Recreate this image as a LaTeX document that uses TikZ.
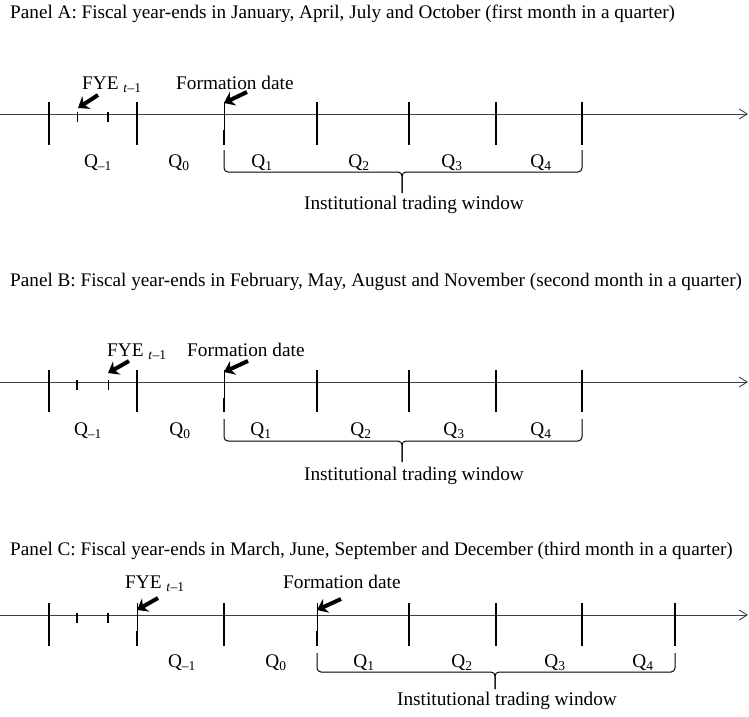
\documentclass[tikz,border=0pt]{standalone}
\usepackage{fontspec}
\setmainfont{Liberation Serif}
\usetikzlibrary{arrows.meta}
\definecolor{axisgray}{HTML}{404040}

\begin{document}
\begin{tikzpicture}[x=1pt, y=-1pt,
            font=\fontsize{19.3}{23}\selectfont,
            axis/.style={draw=axisgray, line width=0.9pt, -{Straight Barb[length=8pt, width=10pt]}},
            qtick/.style={line width=2.2pt},
            hair/.style={line width=0.9pt},
            ptr/.style={line width=4pt, -{Stealth[length=10pt, width=15pt]}},
            brace/.style={line width=1pt, rounded corners=4pt},
            lbl/.style={inner sep=0pt, anchor=base west},
            ttl/.style={lbl, font=\fontsize{19.2}{23}\selectfont},
            qlbl/.style={inner sep=0pt, anchor=base}
            ]
        \useasboundingbox (0,0) rectangle (749,716);

        % Panel A
        \node[ttl] (titleA) at (10,18) {Panel A: Fiscal year-ends in January, April, July and October (first month in a quarter)};
        \path coordinate (axA0) at (0,114)
              coordinate (axA1) at (748,114);
        \draw[axis] (axA0) -- (axA1);
        \foreach \x in {49,137,317,409,496,582}
            \draw[qtick] (\x,102) -- (\x,145);
        \draw[hair] (224,102) -- (224,130);
        \draw[qtick] (224,130) -- (224,145);
        \draw[hair] (77,112) -- (77,122);
        \draw[qtick] (108,112) -- (108,122);

        \node[lbl] (fyeA) at (82,89) {FYE \textsubscript{\textit{t}\textendash1}};
        \node[lbl] (formA) at (176,89) {Formation date};
        \path coordinate (fyeA0) at (98,95)   coordinate (fyeA1) at (78,108)
              coordinate (formA0) at (247,92) coordinate (formA1) at (224,103);
        \draw[ptr] (fyeA0) -- (fyeA1);
        \draw[ptr] (formA0) -- (formA1);

        \foreach \x/\q [count=\i] in {98/\textendash1, 179/0, 262/1, 359/2, 452/3, 541/4}
            \node[qlbl] (qA\i) at (\x,167) {Q\textsubscript{\q}};

        \path coordinate (brA0) at (224,150)
              coordinate (brA1) at (582,150)
              coordinate (brAt) at (402,193);
        \draw[brace] (brA0) |- (402,172) -- (brAt);
        \draw[brace] (brA1) |- (402,172) -- (brAt);
        \node[qlbl] (winA) at (414,209) {Institutional trading window};

        % Panel B
        \node[ttl] (titleB) at (10,286) {Panel B: Fiscal year-ends in February, May, August and November (second month in a quarter)};
        \path coordinate (axB0) at (0,382)
              coordinate (axB1) at (748,382);
        \draw[axis] (axB0) -- (axB1);
        \foreach \x in {49,137,317,409,496,582}
            \draw[qtick] (\x,370) -- (\x,412);
        \draw[hair] (224,370) -- (224,398);
        \draw[qtick] (224,398) -- (224,412);
        \draw[qtick] (77,380) -- (77,390);
        \draw[hair] (108,380) -- (108,390);

        \node[lbl] (fyeB) at (107,356) {FYE \textsubscript{\textit{t}\textendash1}};
        \node[lbl] (formB) at (187,356) {Formation date};
        \path coordinate (fyeB0) at (129,361) coordinate (fyeB1) at (108,373)
              coordinate (formB0) at (248,361) coordinate (formB1) at (224,372);
        \draw[ptr] (fyeB0) -- (fyeB1);
        \draw[ptr] (formB0) -- (formB1);

        \foreach \x/\q [count=\i] in {88/\textendash1, 180/0, 261/1, 361/2, 454/3, 541/4}
            \node[qlbl] (qB\i) at (\x,435) {Q\textsubscript{\q}};

        \path coordinate (brB0) at (224,419)
              coordinate (brB1) at (582,419)
              coordinate (brBt) at (402,462);
        \draw[brace] (brB0) |- (402,441) -- (brBt);
        \draw[brace] (brB1) |- (402,441) -- (brBt);
        \node[qlbl] (winB) at (414,480) {Institutional trading window};

        % Panel C
        \node[ttl] (titleC) at (10,555) {Panel C: Fiscal year-ends in March, June, September and December (third month in a quarter)};
        \path coordinate (axC0) at (0,615)
              coordinate (axC1) at (748,615);
        \draw[axis] (axC0) -- (axC1);
        \foreach \x in {49,224,409,496,582,675}
            \draw[qtick] (\x,603) -- (\x,646);
        \foreach \x in {137,317} {
            \draw[hair] (\x,603) -- (\x,631);
            \draw[qtick] (\x,631) -- (\x,646);
        }
        \draw[qtick] (77,613) -- (77,623);
        \draw[qtick] (108,613) -- (108,623);

        \node[lbl] (fyeC) at (125,588) {FYE \textsubscript{\textit{t}\textendash1}};
        \node[lbl] (formC) at (283,588) {Formation date};
        \path coordinate (fyeC0) at (158,598) coordinate (fyeC1) at (137,610)
              coordinate (formC0) at (341,599) coordinate (formC1) at (317,610);
        \draw[ptr] (fyeC0) -- (fyeC1);
        \draw[ptr] (formC0) -- (formC1);

        \foreach \x/\q [count=\i] in {182/\textendash1, 276/0, 364/1, 462/2, 555/3, 643/4}
            \node[qlbl] (qC\i) at (\x,667) {Q\textsubscript{\q}};

        \path coordinate (brC0) at (317,653)
              coordinate (brC1) at (675,653)
              coordinate (brCt) at (495,689);
        \draw[brace] (brC0) |- (495,672) -- (brCt);
        \draw[brace] (brC1) |- (495,672) -- (brCt);
        \node[qlbl] (winC) at (507,705) {Institutional trading window};
    \end{tikzpicture}
\end{document}
